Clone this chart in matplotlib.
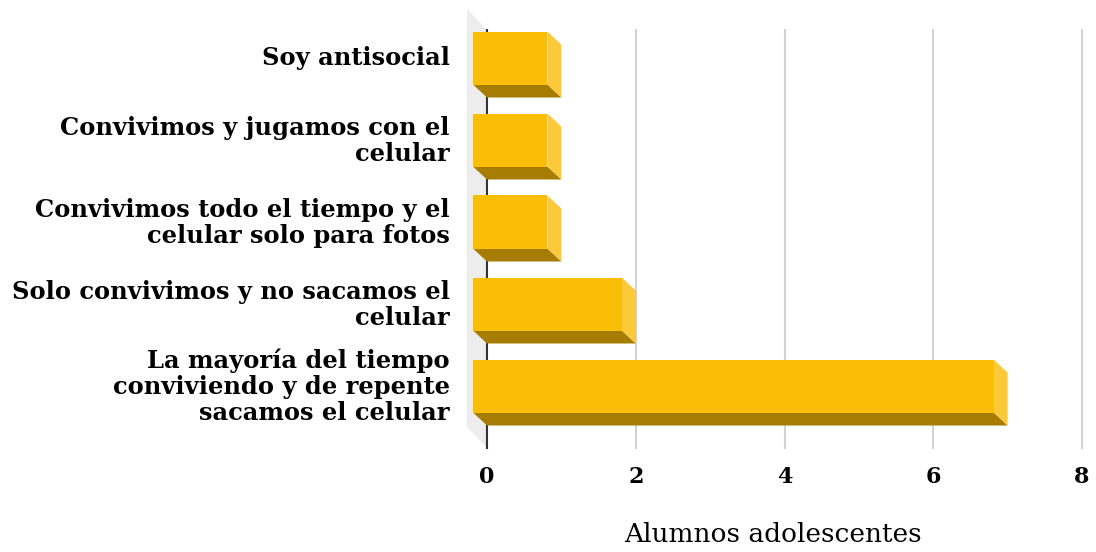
import matplotlib
matplotlib.use("Agg")
import matplotlib.pyplot as plt
from matplotlib.patches import Polygon

categories = [
    "La mayoría del tiempo\nconviviendo y de repente\nsacamos el celular",
    "Solo convivimos y no sacamos el\ncelular",
    "Convivimos todo el tiempo y el\ncelular solo para fotos",
    "Convivimos y jugamos con el\ncelular",
    "Soy antisocial",
]
values = [7, 2, 1, 1, 1]
xticks = [0, 2, 4, 6, 8]
xlabel = "Alumnos adolescentes"

FRONT = "#F9BE05"
SIDE = "#FCC93A"
BOTTOM = "#A67C03"
WALL = "#EDEDED"
GRID = "#D2D2D2"

W, H = 1096, 552
fig = plt.figure(figsize=(W / 100, H / 100), dpi=100)
left_px, right_px, top_px, bot_px = 487, 1082, 30, 448
ax = fig.add_axes([left_px / W, 1 - bot_px / H, (right_px - left_px) / W, (bot_px - top_px) / H])

xmax = 8
px_x = (right_px - left_px) / xmax
px_y = 82.0
ylo = 4.5 - (bot_px - top_px) / px_y
ax.set_xlim(0, xmax)
ax.set_ylim(ylo, 4.5)

# depth offsets (data units)
DX = -14 / px_x
DY = 13 / px_y
WDX = -20 / px_x
WDY = 21 / px_y
bh = 53 / px_y

# side wall
ax.add_patch(Polygon([(0, ylo), (0, 4.5), (WDX, 4.5 + WDY), (WDX, ylo + WDY)],
                     closed=True, fc=WALL, ec="none", clip_on=False, zorder=0))

# gridlines
for t in xticks[1:]:
    ax.plot([t, t], [ylo, 4.5], color=GRID, lw=1.5, zorder=1, clip_on=False)
ax.plot([0, 0], [ylo, 4.5], color="#333333", lw=1.5, zorder=2, clip_on=False)

for i, v in enumerate(values):
    y0, y1 = i - bh / 2, i + bh / 2
    # bottom face
    ax.add_patch(Polygon([(DX, y0 + DY), (v + DX, y0 + DY), (v, y0), (0, y0)],
                         closed=True, fc=BOTTOM, ec="none", clip_on=False, zorder=3))
    # right side face
    ax.add_patch(Polygon([(v + DX, y0 + DY), (v + DX, y1 + DY), (v, y1), (v, y0)],
                         closed=True, fc=SIDE, ec="none", clip_on=False, zorder=3))
    # front face
    ax.add_patch(Polygon([(DX, y0 + DY), (v + DX, y0 + DY), (v + DX, y1 + DY), (DX, y1 + DY)],
                         closed=True, fc=FRONT, ec="none", clip_on=False, zorder=4))

for s in ax.spines.values():
    s.set_visible(False)

ax.set_xticks(xticks)
ax.set_xticklabels([str(t) for t in xticks], fontfamily="DejaVu Serif",
                   fontweight="bold", fontsize=16)
ax.tick_params(axis="x", length=0, pad=13)

ax.set_yticks([i + DY + 2.5 / px_y for i in range(len(categories))])
ax.set_yticklabels(categories, fontfamily="DejaVu Serif", fontweight="bold",
                   fontsize=17.4, linespacing=1.1, ha="right", multialignment="right")
ax.tick_params(axis="y", length=0, pad=27)

ax.set_xlabel(xlabel, fontfamily="DejaVu Serif", fontsize=19)
ax.xaxis.set_label_coords((773 - left_px) / (right_px - left_px), -(535 - bot_px) / (bot_px - top_px))
ax.xaxis.label.set_va("center")

fig.savefig("out.png", dpi=100, facecolor="white")
